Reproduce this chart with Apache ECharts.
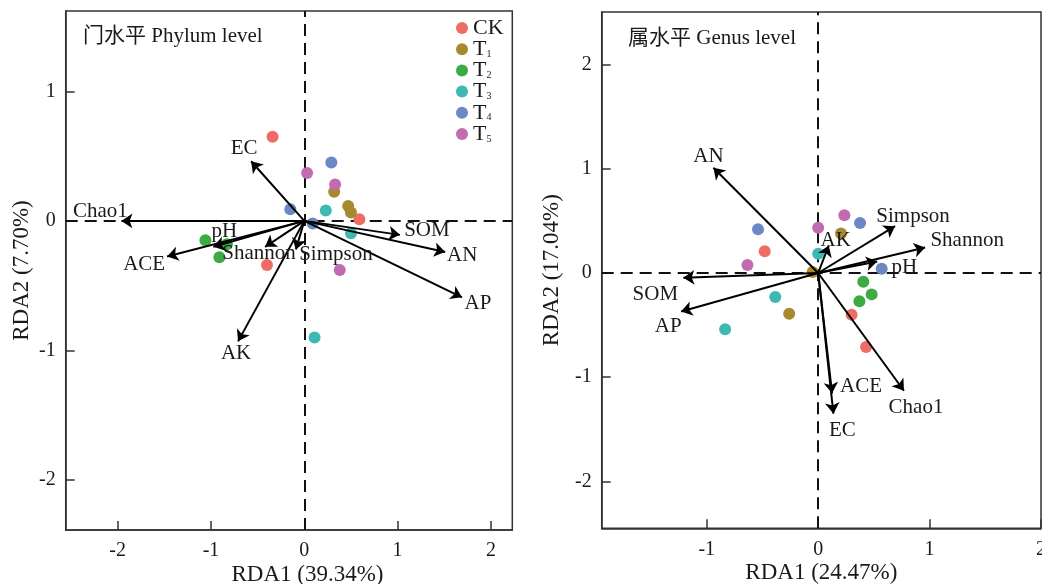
<!DOCTYPE html>
<html>
<head>
<meta charset="utf-8">
<script src="https://cdn.jsdelivr.net/npm/echarts@6/dist/echarts.min.js"></script>
<style>
html,body{margin:0;padding:0;background:#fff;}
#chart{width:1042px;height:584px;}
</style>
</head>
<body>
<div id="chart"></div>
<script>
// ---------- data ----------
const groups = ['CK', 'T1', 'T2', 'T3', 'T4', 'T5'];

// Phylum level samples
const phylumSiteGroup = ['CK','CK','CK','T1','T1','T1','T2','T2','T2','T3','T3','T3','T4','T4','T4','T5','T5','T5'];
const phylumSiteX = [-0.34, 0.59, -0.40, 0.32, 0.47, 0.50, -1.06, -0.83, -0.91, 0.23, 0.50, 0.11, 0.29, -0.15, 0.09, 0.03, 0.33, 0.38];
const phylumSiteY = [0.65, 0.013, -0.34, 0.225, 0.115, 0.064, -0.15, -0.18, -0.28, 0.08, -0.095, -0.90, 0.45, 0.09, -0.02, 0.37, 0.28, -0.38];

// Phylum level environmental vectors
const phylumEnvNames = ['EC', 'Chao1', 'pH', 'ACE', 'Shannon', 'Simpson', 'SOM', 'AN', 'AP', 'AK'];
const phylumEnvX = [-0.57, -1.96, -0.975, -1.47, -0.42, -0.09, 1.025, 1.51, 1.69, -0.71];
const phylumEnvY = [0.46, 0.0, -0.20, -0.275, -0.20, -0.22, -0.108, -0.24, -0.59, -0.93];

// Genus level samples
const genusSiteGroup = ['CK','CK','CK','T1','T1','T1','T2','T2','T2','T3','T3','T3','T4','T4','T4','T5','T5','T5'];
const genusSiteX = [-0.48, 0.30, 0.43, 0.205, -0.05, -0.26, 0.405, 0.48, 0.37, 0.0, -0.385, -0.835, -0.54, 0.376, 0.57, 0.235, 0.0, -0.635];
const genusSiteY = [0.21, -0.40, -0.71, 0.38, 0.01, -0.39, -0.083, -0.205, -0.27, 0.185, -0.23, -0.54, 0.42, 0.48, 0.04, 0.555, 0.435, 0.077];

// Genus level environmental vectors
const genusEnvNames = ['AN', 'Simpson', 'Shannon', 'pH', 'AK', 'SOM', 'AP', 'ACE', 'EC', 'Chao1'];
const genusEnvX = [-0.94, 0.69, 0.96, 0.53, 0.095, -1.21, -1.23, 0.125, 0.137, 0.77];
const genusEnvY = [1.01, 0.45, 0.245, 0.11, 0.265, -0.045, -0.37, -1.155, -1.35, -1.13];

// tick labels
const phylumXTicks = [-2, -1, 0, 1, 2];
const phylumYTicks = [-2, -1, 0, 1];
const genusXTicks = [-1, 0, 1, 2];
const genusYTicks = [-2, -1, 0, 1, 2];

// ---------- styles ----------
const FONT = '"Liberation Serif", "Times New Roman", "Noto Sans CJK SC", serif';
const groupColors = {CK:'#EE6B66', T1:'#A88A2E', T2:'#3DAA43', T3:'#3DB9B2', T4:'#6B87C4', T5:'#C26BAE'};
// label offsets (pixels) relative to arrow tips
const phylumLabelOffset = {EC:[-7,-13], Chao1:[-21,-9], pH:[11,-15], ACE:[-23,8], Shannon:[-6,7], Simpson:[40,5], SOM:[27,-4], AN:[17,4], AP:[16,6], AK:[-2,12]};
const genusLabelOffset = {AN:[-5,-11], Simpson:[18,-10], Shannon:[42,-7], pH:[27,6], AK:[7,-5], SOM:[-28,17], AP:[-13,15], ACE:[29,-7], EC:[9,17], Chao1:[12,17]};

const frameColor = '#333';
const textColor = '#1a1a1a';

function makeXAxis(gridIndex, min, max, ticks, name, namePad) {
  return {
    type: 'value', gridIndex, min, max,
    name, nameLocation: 'middle', nameGap: 33, nameMoveOverlap: false,
    nameTextStyle: {fontFamily: FONT, fontSize: 23, color: textColor, padding: namePad},
    axisLine: {show: true, onZero: false, lineStyle: {color: frameColor, width: 1.5}},
    axisTick: {show: true, inside: true, length: 9, customValues: ticks, lineStyle: {color: frameColor, width: 1.5}},
    axisLabel: {show: true, customValues: ticks, margin: 11, showMinLabel: true, showMaxLabel: true, hideOverlap: false,
                fontFamily: FONT, fontSize: 20, color: textColor},
    splitLine: {show: false}
  };
}
function makeYAxis(gridIndex, min, max, ticks, name, nameGap) {
  return {
    type: 'value', gridIndex, min, max,
    name, nameLocation: 'middle', nameGap, nameRotate: 90, nameMoveOverlap: false,
    nameTextStyle: {fontFamily: FONT, fontSize: 23, color: textColor},
    axisLine: {show: true, onZero: false, lineStyle: {color: frameColor, width: 1.5}},
    axisTick: {show: true, inside: true, length: 9, customValues: ticks, lineStyle: {color: frameColor, width: 1.5}},
    axisLabel: {show: true, customValues: ticks, margin: 10, showMinLabel: true, showMaxLabel: true, hideOverlap: false,
                fontFamily: FONT, fontSize: 20, color: textColor},
    splitLine: {show: false}
  };
}

function siteSeries(gi, gx, gy, gg) {
  return groups.map(g => {
    const d = [];
    for (let i = 0; i < gg.length; i++) if (gg[i] === g) d.push([gx[i], gy[i]]);
    return {
      type: 'scatter', name: g, xAxisIndex: gi, yAxisIndex: gi,
      data: d, symbol: 'circle', symbolSize: 12, z: 2,
      itemStyle: {color: groupColors[g], opacity: 1},
      emphasis: {disabled: true}
    };
  });
}
function zeroLines(gi) {
  return {
    type: 'scatter', name: 'zero' + gi, xAxisIndex: gi, yAxisIndex: gi, data: [], z: 1,
    markLine: {
      silent: true, symbol: 'none', z: 1,
      label: {show: false},
      lineStyle: {color: '#111', width: 2, type: [12, 7]},
      data: [{xAxis: 0}, {yAxis: 0}]
    }
  };
}
function arrowSeries(gi, names, xs, ys) {
  return {
    type: 'lines', coordinateSystem: 'cartesian2d', xAxisIndex: gi, yAxisIndex: gi, z: 3,
    symbol: ['none', 'arrow'], symbolSize: [8, 11],
    lineStyle: {color: '#000', width: 2, opacity: 1, curveness: 0},
    silent: true,
    data: names.map((n, i) => ({coords: [[0, 0], [xs[i], ys[i]]]}))
  };
}
function labelSeries(gi, names, xs, ys, offs) {
  return {
    type: 'scatter', xAxisIndex: gi, yAxisIndex: gi, z: 4, symbolSize: 2, silent: true,
    itemStyle: {color: 'rgba(0,0,0,0)', opacity: 1},
    emphasis: {disabled: true},
    data: names.map((n, i) => ({
      value: [xs[i], ys[i]], name: n,
      label: {show: true, position: 'inside', offset: offs[n], formatter: n, opacity: 1,
              fontFamily: FONT, fontSize: 21, color: textColor}
    }))
  };
}

const option = {
  backgroundColor: '#fff',
  animation: false,
  grid: [
    {left: 65.7, top: 11, width: 446.6, height: 519, show: true, borderColor: frameColor, borderWidth: 1.5, containLabel: false, outerBoundsMode: 'none'},
    {left: 601.7, top: 12, width: 439.3, height: 516.3, show: true, borderColor: frameColor, borderWidth: 1.5, containLabel: false, outerBoundsMode: 'none'}
  ],
  xAxis: [
    makeXAxis(0, -2.557, 2.229, phylumXTicks, 'RDA1 (39.34%)', [0, 0, 0, 37]),
    makeXAxis(1, -1.943, 2.0, genusXTicks, 'RDA1 (24.47%)', [0, 0, 0, 0])
  ],
  yAxis: [
    makeYAxis(0, -2.386, 1.62, phylumYTicks, 'RDA2 (7.70%)', 32),
    makeYAxis(1, -2.45, 2.505, genusYTicks, 'RDA2 (17.04%)', 38)
  ],
  legend: {
    data: groups, orient: 'vertical', left: 451, top: 12,
    icon: 'circle', itemWidth: 12, itemHeight: 12, itemGap: -0.8,
    selectedMode: false,
    formatter: n => n.length > 1 && n[0] === 'T' ? 'T{sub|' + n.slice(1) + '}' : n,
    textStyle: {fontFamily: FONT, fontSize: 22, color: textColor, lineHeight: 20,
      rich: {sub: {fontFamily: FONT, fontSize: 10, color: textColor, verticalAlign: 'bottom', lineHeight: 20, padding: [8, 0, 0, 0]}}}
  },
  graphic: [
    {type: 'text', left: 83, top: 26, style: {text: '门水平 Phylum level', font: '21px ' + FONT, fill: textColor}},
    {type: 'text', left: 628, top: 28, style: {text: '属水平 Genus level', font: '21px ' + FONT, fill: textColor}}
  ],
  series: [
    zeroLines(0),
    ...siteSeries(0, phylumSiteX, phylumSiteY, phylumSiteGroup),
    arrowSeries(0, phylumEnvNames, phylumEnvX, phylumEnvY),
    labelSeries(0, phylumEnvNames, phylumEnvX, phylumEnvY, phylumLabelOffset),
    zeroLines(1),
    ...siteSeries(1, genusSiteX, genusSiteY, genusSiteGroup),
    arrowSeries(1, genusEnvNames, genusEnvX, genusEnvY),
    labelSeries(1, genusEnvNames, genusEnvX, genusEnvY, genusLabelOffset)
  ]
};

const chart = echarts.init(document.getElementById('chart'), null, {renderer: 'canvas'});
chart.setOption(option);
</script>
</body>
</html>
